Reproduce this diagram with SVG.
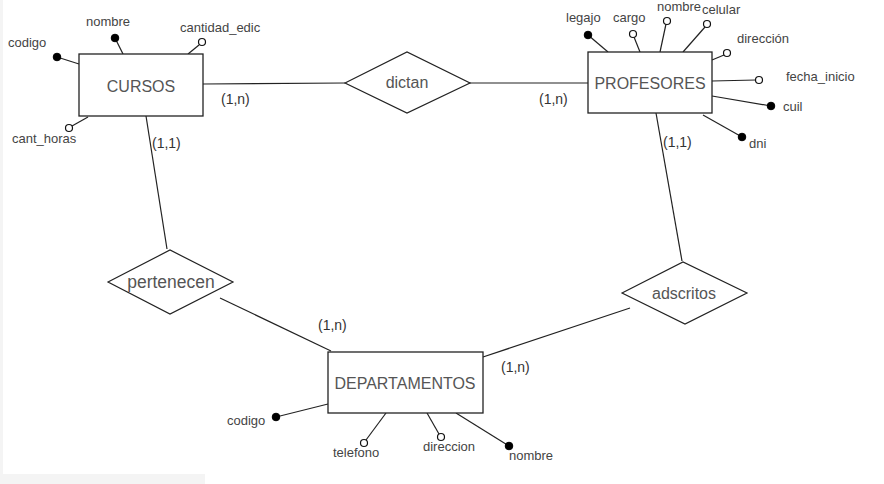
<svg xmlns="http://www.w3.org/2000/svg" width="884" height="484" viewBox="0 0 884 484">
<style>
.ent{fill:#fff;stroke:#222;stroke-width:1.3}
.rel{fill:#fff;stroke:#222;stroke-width:1.2}
.ln{stroke:#222;stroke-width:1.2;fill:none}
.key{fill:#000;stroke:#000;stroke-width:1}
.opt{fill:#fff;stroke:#111;stroke-width:1.2}
text{font-family:"Liberation Sans",Arial,sans-serif}
.en{font-size:16px;fill:#555;text-anchor:middle}
.rn{font-size:16px;fill:#555;text-anchor:middle}
.at{font-size:13px;fill:#444}
.cd{font-size:14px;fill:#333}
</style>
<rect x="0" y="0" width="884" height="484" fill="#fff"/>
<rect x="0" y="0" width="3" height="484" fill="#f4f4f4"/>
<rect x="0" y="474" width="205" height="10" fill="#f4f4f4"/>

<g id="connectors">
<line class="ln" x1="203" y1="84" x2="345" y2="83"/>
<line class="ln" x1="469" y1="83" x2="588" y2="83"/>
<line class="ln" x1="146" y1="116" x2="167" y2="249"/>
<line class="ln" x1="220" y1="298" x2="331" y2="351"/>
<line class="ln" x1="656" y1="113" x2="682" y2="261"/>
<line class="ln" x1="483" y1="357" x2="630" y2="308"/>
<text class="cd" x="221" y="104">(1,n)</text>
<text class="cd" x="539" y="104">(1,n)</text>
<text class="cd" x="152" y="148">(1,1)</text>
<text class="cd" x="663" y="147">(1,1)</text>
<text class="cd" x="318" y="330">(1,n)</text>
<text class="cd" x="501" y="372">(1,n)</text>
</g>

<g id="cursos">
<line class="ln" x1="57" y1="57" x2="79" y2="64"/>
<line class="ln" x1="115" y1="38" x2="123" y2="54"/>
<line class="ln" x1="199" y1="45" x2="188" y2="54"/>
<line class="ln" x1="72" y1="126" x2="88" y2="117"/>
<rect class="ent" x="79" y="54" width="124" height="62"/>
<text class="en" x="141" y="92">CURSOS</text>
<circle class="key" cx="57" cy="57" r="3.8"/>
<circle class="key" cx="115" cy="38" r="3.8"/>
<circle class="opt" cx="202" cy="42" r="3.5"/>
<circle class="opt" cx="69" cy="128" r="3.5"/>
<text class="at" x="8" y="47">codigo</text>
<text class="at" x="86" y="26">nombre</text>
<text class="at" x="180" y="32">cantidad_edic</text>
<text class="at" x="12" y="143">cant_horas</text>
</g>

<g id="profesores">
<line class="ln" x1="588" y1="35" x2="608" y2="52"/>
<line class="ln" x1="634" y1="37" x2="640" y2="52"/>
<line class="ln" x1="666" y1="24" x2="660" y2="52"/>
<line class="ln" x1="705" y1="27" x2="683" y2="52"/>
<line class="ln" x1="724" y1="55" x2="712" y2="60"/>
<line class="ln" x1="712" y1="81" x2="756" y2="80"/>
<line class="ln" x1="712" y1="96" x2="771" y2="106"/>
<line class="ln" x1="703" y1="115" x2="742" y2="137"/>
<rect class="ent" x="588" y="52" width="124" height="61"/>
<text class="en" x="650" y="89">PROFESORES</text>
<circle class="key" cx="588" cy="35" r="3.8"/>
<circle class="opt" cx="633" cy="34" r="3.5"/>
<circle class="opt" cx="667" cy="21" r="3.5"/>
<circle class="opt" cx="707" cy="24" r="3.5"/>
<circle class="opt" cx="727" cy="53" r="3.5"/>
<circle class="opt" cx="759" cy="80" r="3.5"/>
<circle class="key" cx="771" cy="106" r="3.8"/>
<circle class="key" cx="742" cy="137" r="3.8"/>
<text class="at" x="566" y="22">legajo</text>
<text class="at" x="613" y="22">cargo</text>
<text class="at" x="657" y="10.5">nombre</text>
<text class="at" x="702" y="14">celular</text>
<text class="at" x="737" y="43">dirección</text>
<text class="at" x="786" y="81">fecha_inicio</text>
<text class="at" x="783" y="111">cuil</text>
<text class="at" x="749" y="148">dni</text>
</g>

<g id="departamentos">
<line class="ln" x1="276" y1="417" x2="328" y2="404"/>
<line class="ln" x1="366" y1="440" x2="386" y2="413"/>
<line class="ln" x1="439" y1="434" x2="427" y2="413"/>
<line class="ln" x1="456" y1="413" x2="509" y2="446"/>
<rect class="ent" x="328" y="352" width="155" height="61"/>
<text class="en" x="405" y="389">DEPARTAMENTOS</text>
<circle class="key" cx="276" cy="417" r="3.8"/>
<circle class="opt" cx="364" cy="443" r="3.5"/>
<circle class="opt" cx="441" cy="437" r="3.5"/>
<circle class="key" cx="509" cy="446" r="3.8"/>
<text class="at" x="227" y="425">codigo</text>
<text class="at" x="333" y="457">telefono</text>
<text class="at" x="423" y="451">direccion</text>
<text class="at" x="509" y="460">nombre</text>
</g>

<g id="dictan">
<polygon class="rel" points="345,83 407,52 470,83 407,113"/>
<text class="rn" x="407" y="88">dictan</text>
</g>

<g id="pertenecen">
<polygon class="rel" points="108,282 170,250 233,282 170,314"/>
<text class="rn" x="171" y="288" style="font-size:17.5px">pertenecen</text>
</g>

<g id="adscritos">
<polygon class="rel" points="622,293 683,262 747,293 685,324"/>
<text class="rn" x="684" y="299">adscritos</text>
</g>
</svg>
